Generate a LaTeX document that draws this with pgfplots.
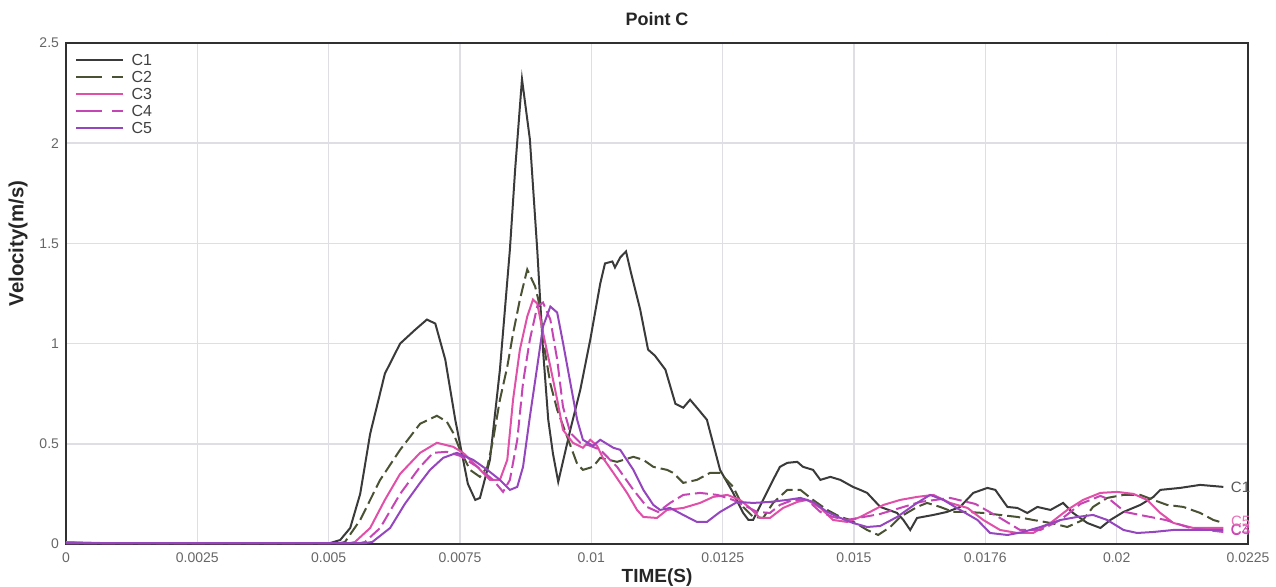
\documentclass[border=0pt]{standalone}
\usepackage{fontspec}
\setmainfont{Liberation Sans}
\usepackage{pgfplots}
\usepackage{pgfplotstable}
\pgfplotsset{compat=1.18}

\definecolor{cone}{HTML}{3A3A3A}
\definecolor{ctwo}{HTML}{4A5234}
\definecolor{cthree}{HTML}{E04FA8}
\definecolor{cfour}{HTML}{C645B5}
\definecolor{cfive}{HTML}{9546BE}
\definecolor{gridc}{HTML}{DEDEE4}
\definecolor{tickc}{HTML}{666666}
\definecolor{framec}{HTML}{303030}

% velocity histories at point C (time in s, velocity in m/s)
\pgfplotstableread{
t v
0 0.010
0.00027 0.005
0.00255 0.003
0.00503 0.005
0.00522 0.02
0.00541 0.08
0.00560 0.25
0.00579 0.55
0.00607 0.85
0.00636 1.00
0.00665 1.07
0.00687 1.12
0.00703 1.10
0.00722 0.92
0.00741 0.62
0.00765 0.30
0.00779 0.22
0.00788 0.23
0.00807 0.42
0.00826 0.87
0.00845 1.47
0.00855 1.87
0.00868 2.32
0.00883 2.02
0.00897 1.47
0.00908 0.97
0.00918 0.62
0.00927 0.45
0.00937 0.31
0.00960 0.57
0.00979 0.77
0.00998 1.02
0.01017 1.30
0.01026 1.40
0.01040 1.41
0.01045 1.38
0.01055 1.43
0.01066 1.46
0.01074 1.37
0.01093 1.17
0.01108 0.97
0.01121 0.94
0.01141 0.87
0.01160 0.70
0.01175 0.68
0.01188 0.72
0.01201 0.68
0.01220 0.62
0.01245 0.37
0.01270 0.255
0.01289 0.155
0.01299 0.12
0.01308 0.12
0.01327 0.22
0.01346 0.32
0.01359 0.385
0.01373 0.405
0.01392 0.41
0.01403 0.385
0.01422 0.37
0.01436 0.32
0.01455 0.335
0.01474 0.32
0.01498 0.285
0.01512 0.27
0.01525 0.255
0.01550 0.185
0.01582 0.155
0.01594 0.12
0.01607 0.07
0.01620 0.13
0.01651 0.145
0.01677 0.16
0.01702 0.185
0.01727 0.255
0.01754 0.28
0.01769 0.27
0.01792 0.185
0.01811 0.18
0.01830 0.155
0.01849 0.185
0.01874 0.17
0.01898 0.205
0.01917 0.155
0.01944 0.105
0.01969 0.08
0.01988 0.12
0.02013 0.16
0.02045 0.195
0.02070 0.235
0.02083 0.27
0.02121 0.28
0.02159 0.295
0.02203 0.285
}\dataCone

\pgfplotstableread{
t v
0 0.005
0.00522 0.005
0.00531 0.01
0.00560 0.12
0.00598 0.32
0.00636 0.47
0.00674 0.60
0.00706 0.64
0.00725 0.61
0.00737 0.555
0.00750 0.47
0.00769 0.37
0.00788 0.335
0.00802 0.385
0.00813 0.52
0.00826 0.72
0.00840 0.885
0.00851 1.05
0.00864 1.22
0.00878 1.37
0.00893 1.285
0.00899 1.22
0.00906 1.085
0.00912 0.955
0.00922 0.80
0.00935 0.67
0.00954 0.535
0.00973 0.40
0.00984 0.37
0.01003 0.385
0.01017 0.43
0.01049 0.41
0.01080 0.435
0.01099 0.42
0.01118 0.385
0.01144 0.37
0.01156 0.355
0.01175 0.305
0.01201 0.32
0.01226 0.355
0.01245 0.355
0.01270 0.285
0.01289 0.185
0.01308 0.135
0.01327 0.13
0.01346 0.205
0.01373 0.27
0.01398 0.27
0.01422 0.22
0.01449 0.17
0.01474 0.135
0.01493 0.12
0.01525 0.07
0.01546 0.045
0.01569 0.085
0.01588 0.135
0.01620 0.185
0.01639 0.205
0.01664 0.185
0.01689 0.16
0.01716 0.16
0.01746 0.155
0.01778 0.145
0.01811 0.135
0.01841 0.12
0.01874 0.105
0.01906 0.085
0.01936 0.12
0.01955 0.185
0.01982 0.23
0.02013 0.245
0.02045 0.245
0.02070 0.22
0.02096 0.195
0.02127 0.185
0.02159 0.155
0.02184 0.12
0.02203 0.105
}\dataCtwo

\pgfplotstableread{
t v
0 0.01
0.00065 0.005
0.00541 0.005
0.00550 0.01
0.00579 0.08
0.00607 0.22
0.00636 0.35
0.00674 0.455
0.00706 0.505
0.00737 0.485
0.00756 0.455
0.00783 0.385
0.00807 0.32
0.00826 0.32
0.00840 0.42
0.00851 0.72
0.00864 0.97
0.00878 1.135
0.00889 1.22
0.00897 1.20
0.00908 1.055
0.00922 0.885
0.00935 0.72
0.00946 0.57
0.00965 0.505
0.00984 0.48
0.00998 0.52
0.01011 0.49
0.01022 0.43
0.01042 0.355
0.01068 0.255
0.01087 0.17
0.01099 0.135
0.01125 0.13
0.01144 0.17
0.01175 0.18
0.01207 0.205
0.01232 0.235
0.01259 0.245
0.01283 0.22
0.01302 0.18
0.01321 0.13
0.01340 0.13
0.01365 0.18
0.01392 0.21
0.01411 0.22
0.01436 0.18
0.01460 0.12
0.01487 0.11
0.01512 0.135
0.01556 0.195
0.01588 0.22
0.01620 0.235
0.01651 0.245
0.01683 0.205
0.01716 0.18
0.01746 0.12
0.01778 0.07
0.01811 0.055
0.01841 0.055
0.01874 0.105
0.01906 0.17
0.01936 0.22
0.01969 0.255
0.02001 0.26
0.02032 0.25
0.02058 0.22
0.02083 0.155
0.02108 0.105
0.02146 0.08
0.02203 0.08
}\dataCthree

\pgfplotstableread{
t v
0 0.005
0.00560 0.005
0.00569 0.01
0.00598 0.08
0.00636 0.25
0.00674 0.385
0.00699 0.455
0.00725 0.46
0.00750 0.44
0.00783 0.385
0.00813 0.32
0.00832 0.26
0.00845 0.32
0.00859 0.52
0.00870 0.805
0.00883 1.02
0.00897 1.185
0.00908 1.205
0.00922 1.12
0.00935 0.92
0.00946 0.685
0.00960 0.555
0.00979 0.505
0.00998 0.49
0.01017 0.47
0.01049 0.385
0.01080 0.27
0.01106 0.185
0.01127 0.16
0.01150 0.205
0.01175 0.245
0.01207 0.255
0.01240 0.245
0.01270 0.22
0.01297 0.185
0.01316 0.16
0.01340 0.155
0.01359 0.195
0.01384 0.22
0.01411 0.22
0.01436 0.16
0.01460 0.135
0.01487 0.12
0.01550 0.15
0.01626 0.21
0.01683 0.23
0.01731 0.20
0.01778 0.13
0.01816 0.07
0.01855 0.07
0.01893 0.12
0.01931 0.20
0.01969 0.24
0.01988 0.22
0.02016 0.16
0.02054 0.14
0.02093 0.12
0.02140 0.08
0.02203 0.06
}\dataCfour

\pgfplotstableread{
t v
0 0.005
0.00569 0.005
0.00583 0.01
0.00617 0.08
0.00645 0.20
0.00674 0.305
0.00693 0.37
0.00718 0.43
0.00744 0.455
0.00775 0.42
0.00802 0.37
0.00826 0.32
0.00845 0.27
0.00859 0.285
0.00870 0.385
0.00883 0.635
0.00897 0.885
0.00908 1.085
0.00922 1.185
0.00935 1.155
0.00946 1.005
0.00960 0.805
0.00973 0.62
0.00984 0.52
0.01003 0.49
0.01017 0.52
0.01042 0.48
0.01055 0.47
0.01080 0.37
0.01099 0.27
0.01118 0.195
0.01131 0.17
0.01150 0.18
0.01175 0.145
0.01201 0.11
0.01220 0.11
0.01245 0.16
0.01278 0.21
0.01308 0.205
0.01340 0.21
0.01373 0.22
0.01398 0.23
0.01422 0.21
0.01449 0.16
0.01474 0.13
0.01498 0.105
0.01525 0.085
0.01550 0.09
0.01582 0.135
0.01620 0.205
0.01645 0.245
0.01670 0.22
0.01702 0.17
0.01735 0.12
0.01759 0.055
0.01792 0.045
0.01822 0.06
0.01855 0.085
0.01893 0.12
0.01925 0.135
0.01955 0.145
0.01982 0.12
0.02013 0.07
0.02039 0.055
0.02070 0.06
0.02108 0.07
0.02203 0.07
}\dataCfive

\begin{document}
\begin{tikzpicture}
\path[use as bounding box] (-33pt,-21pt) rectangle (605pt,272pt);
\begin{axis}[
  scale only axis,
  width=591pt, height=250.5pt,
  xmin=0, xmax=0.0225, ymin=0, ymax=2.5,
  clip=false,
  scaled x ticks=false, scaled y ticks=false,
  xtick={0,0.0025,0.005,0.0075,0.01,0.0125,0.015,0.0175,0.02,0.0225},
  xticklabels={0,0.0025,0.005,0.0075,0.01,0.0125,0.015,0.0176,0.02,0.0225},
  ytick={0,0.5,1,1.5,2,2.5},
  yticklabels={0,0.5,1,1.5,2,2.5},
  /pgf/number format/assume math mode=true,
  grid=major,
  grid style={gridc, line width=0.8pt},
  major tick length=0pt,
  axis line style={framec, line width=1.2pt},
  ticklabel style={font=\fontsize{7}{8}\selectfont, text=tickc},
  xticklabel style={yshift=-1pt},
  title={Point C},
  every axis title/.style={at={(axis description cs:0.5,1.048)}, anchor=center,
    font=\bfseries\fontsize{9}{10}\selectfont, text=black!85},
  xlabel={TIME(S)},
  xlabel style={font=\bfseries\fontsize{9.5}{10}\selectfont, text=black!85,
    at={(axis description cs:0.5,-0.068)}, anchor=center},
  ylabel={Velocity(m/s)},
  ylabel style={font=\bfseries\fontsize{10.2}{11}\selectfont, text=black!85,
    at={(axis description cs:-0.0406,0.6)}, anchor=center},
  legend cell align=left,
  legend image code/.code={\draw[#1] (0pt,0pt) -- (23.5pt,0pt);},
  legend style={at={(axis description cs:0.006,0.985)}, anchor=north west,
    draw=none, fill=none, font=\fontsize{8}{9}\selectfont, text=black!75,
    inner sep=1pt, row sep=1.1pt, column sep=3pt,
    nodes={inner sep=0.6pt, text height=5.5pt, text depth=0.7pt}},
]
\addlegendimage{cone, line width=1pt}
\addlegendentry{C1}
\addlegendimage{ctwo, line width=1pt, dash pattern=on 13pt off 5pt on 5.5pt off 5pt}
\addlegendentry{C2}
\addlegendimage{cthree, line width=1pt}
\addlegendentry{C3}
\addlegendimage{cfour, line width=1pt, dash pattern=on 13pt off 5pt on 5.5pt off 5pt}
\addlegendentry{C4}
\addlegendimage{cfive, line width=1pt}
\addlegendentry{C5}

\addplot[forget plot, cone, line width=1pt] table[x=t, y=v] {\dataCone}
  node[pos=1, anchor=west, font=\fontsize{7.5}{8}\selectfont, text=cone!85] {C1};
\addplot[forget plot, ctwo, line width=1pt, dash pattern=on 6.5pt off 2.5pt] table[x=t, y=v] {\dataCtwo};
\addplot[forget plot, cthree, line width=1pt] table[x=t, y=v] {\dataCthree}
  node[pos=1, anchor=west, yshift=-0.8pt, font=\fontsize{7.5}{8}\selectfont, text=cthree] {C3};
\addplot[forget plot, cfour, line width=1pt, dash pattern=on 6.5pt off 2.5pt] table[x=t, y=v] {\dataCfour}
  node[pos=1, anchor=west, yshift=0.6pt, font=\fontsize{7.5}{8}\selectfont, text=cfour] {C4};
\addplot[forget plot, cfive, line width=1pt] table[x=t, y=v] {\dataCfive}
  node[pos=1, anchor=west, yshift=4.5pt, font=\fontsize{7.5}{8}\selectfont, text=cthree!80] {C5};
\end{axis}
\end{tikzpicture}
\end{document}
